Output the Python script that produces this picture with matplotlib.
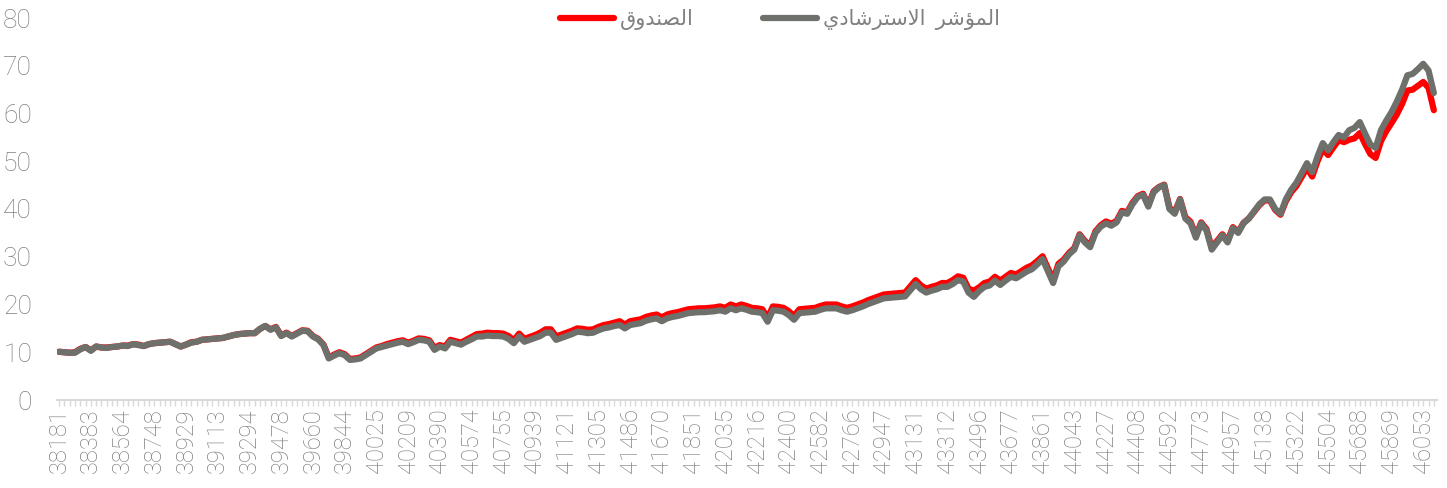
import numpy as np
import matplotlib
matplotlib.use("Agg")
import matplotlib.pyplot as plt

# monthly values, gray = benchmark, red = fund
benchmark = [
    10.1, 10.0, 9.9, 9.9, 10.6, 11.1, 10.3, 11.2, 11.0, 10.9,
    11.1, 11.2, 11.4, 11.3, 11.7, 11.5, 11.3, 11.7, 11.9, 12.0,
    12.1, 12.2, 11.7, 11.2, 11.6, 12.0, 12.2, 12.6, 12.7, 12.8,
    12.9, 13.0, 13.3, 13.6, 13.8, 13.9, 14.0, 14.0, 14.9, 15.5,
    14.7, 15.2, 13.4, 14.0, 13.3, 13.9, 14.5, 14.4, 13.3, 12.7,
    11.5, 8.7, 9.3, 9.8, 9.4, 8.4, 8.5, 8.7, 9.4, 10.1,
    10.8, 11.1, 11.4, 11.7, 12.0, 12.2, 11.7, 12.1, 12.6, 12.5,
    12.2, 10.5, 11.2, 10.8, 12.2, 11.9, 11.6, 12.2, 12.7, 13.3,
    13.3, 13.5, 13.4, 13.4, 13.3, 12.8, 11.9, 13.3, 12.2, 12.6,
    13.0, 13.4, 14.1, 14.1, 12.6, 13.0, 13.4, 13.8, 14.3, 14.2,
    14.0, 14.1, 14.6, 15.0, 15.2, 15.5, 15.7, 15.0, 15.7, 15.9,
    16.1, 16.6, 16.9, 17.1, 16.5, 17.1, 17.4, 17.6, 17.9, 18.2,
    18.3, 18.4, 18.4, 18.5, 18.6, 18.8, 18.5, 19.2, 18.8, 19.2,
    18.9, 18.5, 18.4, 18.2, 16.4, 18.8, 18.7, 18.5, 17.8, 16.8,
    18.2, 18.3, 18.4, 18.5, 18.9, 19.2, 19.2, 19.2, 18.8, 18.5,
    18.8, 19.2, 19.6, 20.1, 20.5, 20.9, 21.3, 21.4, 21.5, 21.6,
    21.7, 23.0, 24.3, 23.2, 22.5, 22.9, 23.2, 23.7, 23.7, 24.3,
    25.1, 24.8, 22.5, 21.6, 22.8, 23.7, 24.0, 25.0, 24.1, 25.0,
    25.8, 25.5, 26.2, 26.9, 27.4, 28.4, 29.5, 27.0, 24.5, 28.0,
    29.0, 30.5, 31.5, 34.5, 33.0, 32.0, 35.0, 36.3, 37.0, 36.5,
    37.2, 39.3, 39.0, 41.0, 42.5, 43.0, 40.5, 43.5, 44.5, 45.0,
    40.0, 39.0, 42.0, 38.0, 37.0, 34.0, 37.0, 35.5, 31.5, 33.0,
    34.5, 33.0, 36.0, 35.0, 37.0, 38.0, 39.5, 41.0, 42.0, 42.0,
    40.0, 39.0, 42.0, 44.0, 45.5, 47.5, 49.6, 47.7, 51.0, 53.8,
    52.3, 54.0, 55.5, 55.0, 56.5, 57.0, 58.2, 55.8, 53.5, 52.8,
    56.5, 58.5, 60.3, 62.5, 65.0, 68.0, 68.3, 69.3, 70.4, 69.0,
    64.3,
]

fund = [
    10.1, 10.0, 9.9, 10.0, 10.7, 11.1, 10.4, 11.2, 11.0, 11.0,
    11.1, 11.2, 11.4, 11.4, 11.7, 11.6, 11.3, 11.7, 11.9, 12.0,
    12.1, 12.2, 11.7, 11.2, 11.6, 12.1, 12.2, 12.6, 12.7, 12.8,
    12.9, 13.0, 13.3, 13.6, 13.8, 13.9, 14.0, 14.0, 14.9, 15.5,
    14.8, 15.3, 13.5, 14.1, 13.4, 14.0, 14.6, 14.5, 13.4, 12.8,
    11.6, 8.9, 9.5, 10.0, 9.6, 8.6, 8.7, 8.9, 9.6, 10.3,
    11.0, 11.3, 11.7, 12.0, 12.3, 12.5, 12.0, 12.4, 12.9, 12.8,
    12.5, 10.9, 11.5, 11.2, 12.6, 12.3, 12.0, 12.6, 13.2, 13.8,
    13.9, 14.1, 14.0, 14.0, 13.9, 13.4, 12.5, 13.9, 12.8, 13.2,
    13.6, 14.1, 14.8, 14.8, 13.3, 13.7, 14.1, 14.5, 15.0, 14.9,
    14.7, 14.8, 15.3, 15.7, 15.9, 16.2, 16.5, 15.8, 16.5, 16.7,
    16.9, 17.4, 17.7, 17.9, 17.3, 17.9, 18.2, 18.4, 18.7, 19.0,
    19.1, 19.2, 19.2, 19.3, 19.4, 19.6, 19.3, 20.0, 19.6, 20.0,
    19.7, 19.3, 19.2, 19.0, 17.2, 19.6, 19.5, 19.3, 18.6, 17.6,
    19.0, 19.1, 19.2, 19.3, 19.7, 20.0, 20.0, 20.0, 19.6, 19.3,
    19.6, 20.0, 20.4, 20.9, 21.3, 21.7, 22.1, 22.2, 22.3, 22.4,
    22.5, 23.8, 25.1, 24.0, 23.3, 23.7, 24.0, 24.5, 24.5, 25.1,
    25.9, 25.6, 23.3, 22.9, 23.6, 24.5, 24.8, 25.8, 25.0, 25.8,
    26.6, 26.3, 27.0, 27.7, 28.2, 29.1, 30.1, 27.6, 25.2, 28.5,
    29.4, 30.8, 31.8, 34.7, 33.3, 32.4, 35.3, 36.6, 37.4, 36.9,
    37.5, 39.6, 39.3, 41.3, 42.7, 43.2, 40.8, 43.7, 44.6, 45.1,
    40.3, 39.3, 42.1, 38.3, 37.3, 34.4, 37.2, 35.8, 31.9, 33.3,
    34.7, 33.3, 36.2, 35.2, 37.1, 38.0, 39.4, 40.8, 41.8, 41.8,
    39.8, 38.8, 41.6, 43.5, 44.8, 46.7, 48.6, 46.8, 50.0, 52.6,
    51.3, 52.9, 54.4, 54.0, 54.5, 54.8, 55.9, 53.6, 51.5, 50.7,
    54.2, 56.3, 58.0, 59.8, 62.0, 64.8, 65.0, 65.8, 66.6, 65.4,
    60.7,
]

# date serials shown every 6th point
tick_labels = [
    "38181", "38383", "38564", "38748", "38929", "39113", "39294", "39478",
    "39660", "39844", "40025", "40209", "40390", "40574", "40755", "40939",
    "41121", "41305", "41486", "41670", "41851", "42035", "42216", "42400",
    "42582", "42766", "42947", "43131", "43312", "43496", "43677", "43861",
    "44043", "44227", "44408", "44592", "44773", "44957", "45138", "45322",
    "45504", "45688", "45869", "46053",
]

# Arabic legend text in shaped presentation forms (visual order)
fund_name = "\uFED5\uFEED\uFEAA\uFEE8\uFEBC\uFEDF\uFE8D"
bench_name = ("\uFEF1\uFEA9\uFE8E\uFEB7\uFEAE\uFE98\uFEB3\uFEFB\uFE8D"
              "  \uFEAE\uFEB7\uFE86\uFEE4\uFEDF\uFE8D")

plt.rcParams['font.family'] = ['Roboto', 'DejaVu Sans']
text_gray = '#808080'

fig = plt.figure(figsize=(14.47, 4.88), dpi=100)
ax = fig.add_axes([57 / 1447, 1 - 400 / 488, 1380 / 1447, 382 / 488])

x = np.arange(len(fund))
ax.plot(x, fund, color='#ff0000', lw=4.5, solid_joinstyle='round',
        solid_capstyle='round', label=fund_name, zorder=2)
ax.plot(x, benchmark, color='#6e706b', lw=4.5, solid_joinstyle='round',
        solid_capstyle='round', label=bench_name, zorder=3)

ax.set_xlim(-0.4, len(fund) - 0.4)
ax.set_ylim(0, 80)
ax.set_yticks(range(0, 81, 10))
ax.tick_params(axis='y', length=0, pad=18, labelsize=19, labelcolor=text_gray)
for t in ax.get_yticklabels():
    t.set_fontweight('light')

ax.set_xticks(np.arange(0, 6 * len(tick_labels), 6))
ax.set_xticklabels(tick_labels, rotation=90, fontsize=17, color=text_gray,
                   fontweight='light')
ax.set_xticks(x, minor=True)
ax.tick_params(axis='x', which='both', length=4, width=1, color='#d9d9d9', pad=2)

for side in ['top', 'right', 'left']:
    ax.spines[side].set_visible(False)
ax.spines['bottom'].set_color('#d9d9d9')
ax.spines['bottom'].set_linewidth(1.5)

fig.legend(loc='center', bbox_to_anchor=(780 / 1447, 1 - 20 / 488), ncol=2,
           frameon=False, fontsize=15, handlelength=2.6, handletextpad=0.3,
           columnspacing=3.3, labelcolor=text_gray)

fig.savefig('out.png', dpi=100)
